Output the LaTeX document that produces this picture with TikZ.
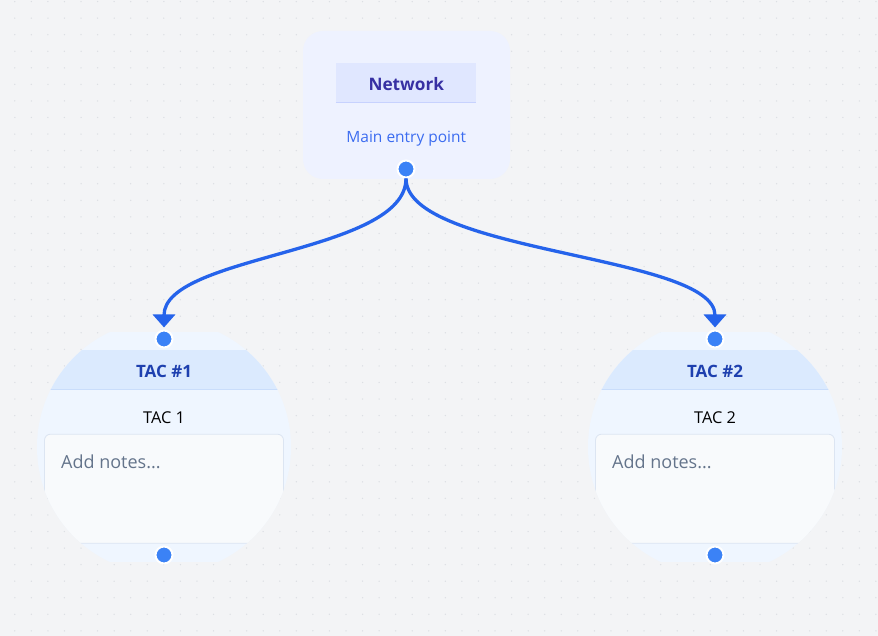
\documentclass[tikz,border=0pt]{standalone}
\usepackage{fontspec}
\setmainfont{Open Sans}
\usetikzlibrary{arrows.meta,calc}
\definecolor{bg}{HTML}{F3F4F6}
\definecolor{dotc}{HTML}{DCDFE4}
\definecolor{edgeblue}{HTML}{2563EB}
\definecolor{handleblue}{HTML}{3B82F6}
\definecolor{netfill}{HTML}{EEF2FF}
\definecolor{netbandc}{HTML}{E0E7FF}
\definecolor{netbandline}{HTML}{C7D2FE}
\definecolor{nettitle}{HTML}{3730A3}
\definecolor{netsub}{HTML}{3B6CF0}
\definecolor{tacfill}{HTML}{EFF6FF}
\definecolor{tacbandc}{HTML}{DBEAFE}
\definecolor{tacbandline}{HTML}{C9DDFB}
\definecolor{tactitle}{HTML}{1E40AF}
\definecolor{notesfill}{HTML}{F8FAFC}
\definecolor{notesline}{HTML}{DCE5F2}
\definecolor{notestext}{HTML}{64748B}
\tikzset{
  netbox/.style={rectangle, rounded corners=20pt, fill=netfill, draw=none,
    minimum width=207pt, minimum height=148pt, inner sep=0pt},
  netband/.style={rectangle, fill=netbandc, draw=none,
    minimum width=140pt, minimum height=39pt, inner sep=0pt},
  notesbox/.style={rectangle, rounded corners=6pt, fill=notesfill, draw=notesline,
    line width=0.8pt, minimum width=239pt, minimum height=109pt, inner sep=0pt},
  handle/.style={circle, fill=handleblue, draw=white, line width=2pt,
    minimum size=17pt, inner sep=0pt},
  flow/.style={draw=edgeblue, line width=3.3pt,
    -{Triangle[length=13pt,width=22pt]}},
  lbl/.style={anchor=base, inner sep=0pt},
}
\begin{document}
\begin{tikzpicture}[x=1pt,y=-1pt]
\useasboundingbox (0,0) rectangle (878,636);
\fill[bg] (0,0) rectangle (878,636);
\foreach \i in {0,...,53}{
  \foreach \j in {0,...,38}{
    \fill[dotc] ({-1.76+16.56*\i},{1.58+16.56*\j}) circle (0.75pt);
  }
}
% Network node
\node[netbox] (net) at (406.5,105) {};
\node[netband] (netbar) at (406,82.7) {};
\draw[netbandline, line width=1pt] (netbar.south west) -- (netbar.south east);
\node[lbl, font=\bfseries\fontsize{17.2}{20}\selectfont, text=nettitle] (nettitle) at (406.3,91) {Network};
\node[lbl, font=\fontsize{15.5}{18}\selectfont, text=netsub] (netsub) at (406.3,142.7) {Main entry point};
\node[handle] (nethandle) at (406,169) {};
% TAC nodes
\foreach \cx/\n/\k in {164/1/a, 715/2/b}{
  \begin{scope}
    \clip (\cx,447) circle (127pt);
    \clip ({\cx-130},332) rectangle ({\cx+130},562);
    \fill[tacfill] ({\cx-130},332) rectangle ({\cx+130},562);
    \node[rectangle, fill=tacbandc, minimum width=260pt, minimum height=39pt, inner sep=0pt] (band\k) at (\cx,369.5) {};
    \draw[tacbandline, line width=1pt] (band\k.south west) -- (band\k.south east);
    \node[notesbox] (notes\k) at (\cx,488.7) {};
  \end{scope}
  \node[lbl, font=\bfseries\fontsize{17}{20}\selectfont, text=tactitle] (title\k) at (\cx,377.8) {TAC \#\n};
  \node[lbl, font=\fontsize{16.3}{19}\selectfont, text=black] (sub\k) at (\cx,423.8) {TAC \n};
  \node[lbl, anchor=base west, font=\fontsize{18}{21}\selectfont, text=notestext] (notetext\k) at ({\cx-103},468) {Add notes...};
  \node[handle] (in\k) at (\cx,339) {};
  \node[handle] (out\k) at (\cx,555) {};
}
% Edges
\draw[flow] (nethandle.south) .. controls ($(nethandle.south)+(0,75)$) and ($(ina.north)+(0,-75)$) .. ([yshift=2pt]ina.north);
\draw[flow] (nethandle.south) .. controls ($(nethandle.south)+(0,75)$) and ($(inb.north)+(0,-75)$) .. ([yshift=2pt]inb.north);
\end{tikzpicture}
\end{document}
